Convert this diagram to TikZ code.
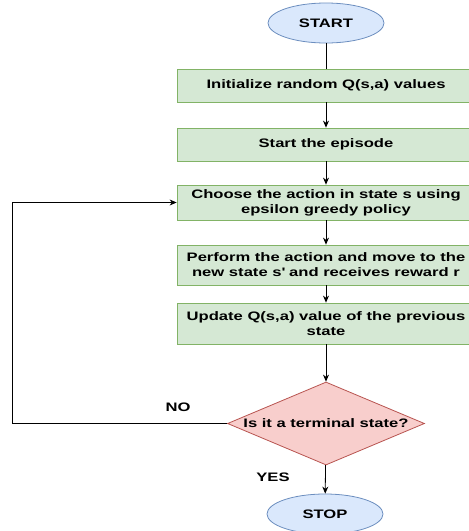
\documentclass[tikz,border=0pt]{standalone}
\usepackage{fontspec}
\setmainfont{Liberation Sans}[FakeStretch=1.35]
\usetikzlibrary{shapes.geometric,arrows.meta}

\definecolor{termfill}{HTML}{DAE8FC}
\definecolor{termline}{HTML}{6C8EBF}
\definecolor{procfill}{HTML}{D5E8D4}
\definecolor{procline}{HTML}{82B366}
\definecolor{decfill}{HTML}{F8CECC}
\definecolor{decline}{HTML}{B85450}

\newcommand{\chartfont}{\fontsize{12.3}{15}\selectfont\bfseries}

\tikzstyle{terminal}=[draw=termline,fill=termfill,ellipse,line width=0.8pt,minimum width=116pt,minimum height=40pt,inner sep=0pt,font=\chartfont]
\tikzstyle{process}=[draw=procline,fill=procfill,line width=0.8pt,minimum width=298pt,inner sep=0pt,align=center,font=\chartfont]
\tikzstyle{decision}=[draw=decline,fill=decfill,diamond,line width=0.8pt,minimum width=197pt,minimum height=83pt,aspect=2.37,inner sep=0pt,font=\chartfont]
\tikzstyle{link}=[draw,line width=0.8pt,-]
\tikzstyle{flow}=[draw,line width=0.8pt,-{Stealth[length=7pt,width=6pt]}]
\tikzstyle{answer}=[font=\chartfont]

\begin{document}
\begin{tikzpicture}[x=1pt, y=-1pt]
    \useasboundingbox (0,0) rectangle (469,531);
    % Start and stop
    \node[terminal] (start) at (326,23) {START};
    \node[terminal] (stop) at (325,514) {STOP};
    % The steps of the loop
    \foreach \pos/\hgt/\name/\txt in {
        {(326,85.5)/33/init/{Initialize random Q(s,a) values}},
        {(326,144.5)/33/episode/{Start the episode}},
        {(326,202.5)/35/choose/{Choose the action in state s using\\epsilon greedy policy}},
        {(326,265)/40/perform/{Perform the action and move to the\\new state s\textquotesingle{} and receives reward r}},
        {(326,323.5)/41/update/{Update Q(s,a) value of the previous\\state}}}
        \node[process, minimum height=\hgt pt] (\name) at \pos {\txt};
    \node[decision] (terminal) at (326,423.5) {Is it a terminal state?};
    \coordinate (back) at (12,0);
    % Connect the steps
    \path[link] (start) -- (init);
    \foreach \source/\dest in {init/episode, episode/choose, choose/perform, perform/update, update/terminal}
        \path[flow] (\source) -- (\dest);
    \path[flow] (terminal) -- (stop);
    \path[flow] (terminal.west) -- (terminal.west -| back) |- (choose.west);
    % Answers
    \node[answer] (no) at (178,407) {NO};
    \node[answer] (yes) at (273,477) {YES};
\end{tikzpicture}
\end{document}
